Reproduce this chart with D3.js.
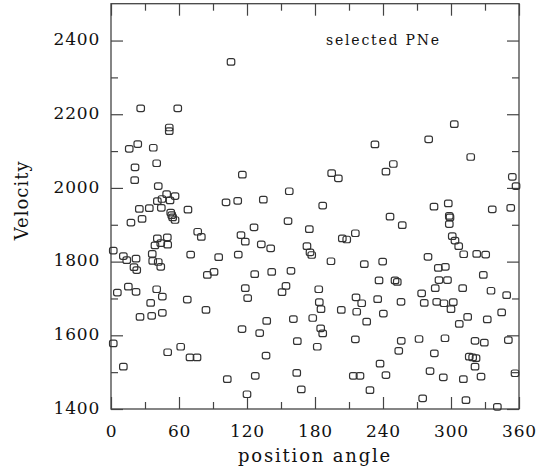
<!DOCTYPE html>
<html>
<head>
<meta charset="utf-8">
<script src="https://cdn.jsdelivr.net/npm/d3@7"></script>
<style>
  html, body { margin: 0; padding: 0; background: #fff; }
  svg { display: block; }
  text { font-family: "DejaVu Serif", serif; fill: #111; }
</style>
</head>
<body>
<svg id="chart" width="553" height="474"></svg>
<script>
// ---- data (position angle in degrees, velocity in km/s) ----
const angles = [
  105.9, 26.2, 58.9, 51.4, 51.4, 16.1, 23.6, 37.3, 21.2, 40.3,
  20.9, 115.9, 41.7, 49.1, 56.5, 45.0, 40.9, 52.1, 101.5, 111.8,
  25.0, 33.8, 44.4, 52.7, 53.6, 54.4, 56.5, 67.9, 17.6, 27.4,
  76.5, 79.7, 114.7, 118.5, 40.9, 49.7, 43.9, 38.8, 50.0, 2.0,
  10.9, 13.9, 22.1, 36.4, 36.8, 41.7, 70.3, 95.0, 112.3, 20.3,
  22.7, 43.9, 85.0, 90.9, 5.6, 15.3, 22.1, 40.3, 45.3, 35.0,
  67.3, 25.6, 35.9, 45.3, 83.8, 118.5, 120.6, 115.6, 2.0, 50.0,
  61.5, 69.7, 75.9, 10.9, 102.6, 120.0, 232.9, 194.7, 200.6, 242.6,
  157.3, 134.4, 186.8, 246.2, 156.2, 126.2, 175.0, 132.6, 140.9, 215.6,
  204.1, 208.0, 172.9, 175.6, 177.1, 194.1, 223.5, 239.7, 126.8, 141.8,
  158.8, 236.5, 154.4, 150.9, 183.3, 183.8, 185.3, 216.2, 221.2, 235.3,
  203.2, 216.8, 240.3, 137.4, 160.9, 178.0, 225.6, 131.2, 185.0, 186.8,
  164.4, 182.0, 215.6, 136.8, 237.4, 127.3, 163.9, 213.8, 219.7, 242.6,
  167.9, 228.5, 302.9, 280.3, 317.4, 249.1, 354.1, 357.4, 285.0, 297.6,
  298.5, 299.1, 298.5, 257.0, 336.4, 352.7, 301.1, 303.5, 306.8, 311.2,
  322.7, 330.6, 279.7, 288.8, 295.0, 328.5, 250.6, 252.6, 289.4, 296.9,
  274.1, 286.1, 310.3, 335.3, 349.1, 255.9, 276.4, 287.4, 293.8, 302.0,
  300.0, 314.7, 307.3, 332.0, 344.7, 256.1, 253.9, 271.8, 294.7, 321.2,
  329.4, 350.6, 285.3, 316.1, 319.1, 322.1, 321.2, 356.5, 281.5, 293.2,
  310.9, 326.5, 275.0, 313.2, 340.9
];
const velocities = [
  2342, 2216, 2216, 2164, 2154, 2106, 2119, 2109, 2056, 2067,
  2021, 2036, 2005, 1983, 1978, 1970, 1964, 1966, 1961, 1965,
  1943, 1945, 1946, 1933, 1926, 1920, 1913, 1941, 1906, 1916,
  1881, 1867, 1872, 1854, 1863, 1866, 1850, 1844, 1846, 1830,
  1815, 1804, 1808, 1821, 1802, 1799, 1819, 1812, 1819, 1785,
  1777, 1786, 1764, 1772, 1716, 1732, 1718, 1725, 1705, 1688,
  1697, 1650, 1653, 1661, 1669, 1728, 1701, 1617, 1578, 1554,
  1569, 1540, 1540, 1515, 1481, 1440, 2118, 2040, 2026, 2044,
  1991, 1968, 1952, 1922, 1910, 1893, 1888, 1847, 1836, 1877,
  1863, 1860, 1842, 1825, 1818, 1801, 1793, 1800, 1766, 1772,
  1775, 1749, 1734, 1717, 1725, 1690, 1671, 1703, 1687, 1698,
  1669, 1664, 1659, 1639, 1644, 1647, 1637, 1606, 1619, 1605,
  1584, 1569, 1589, 1545, 1523, 1490, 1498, 1490, 1490, 1492,
  1453, 1451, 2173, 2132, 2084, 2065, 2030, 2005, 1949, 1958,
  1924, 1920, 1902, 1899, 1942, 1946, 1869, 1857, 1842, 1820,
  1821, 1819, 1813, 1783, 1786, 1764, 1749, 1745, 1750, 1750,
  1714, 1728, 1728, 1721, 1709, 1691, 1688, 1691, 1687, 1690,
  1671, 1650, 1631, 1643, 1662, 1585, 1558, 1590, 1592, 1585,
  1580, 1587, 1551, 1542, 1540, 1538, 1515, 1497, 1503, 1486,
  1481, 1488, 1429, 1424, 1406
];
const angleMajorTicks = [0, 60, 120, 180, 240, 300, 360];
const angleMinorTicks = [30, 90, 150, 210, 270, 330];
const velMajorTicks = [1400, 1600, 1800, 2000, 2200, 2400];
const velMinorTicks = [1500, 1700, 1900, 2100, 2300];
const xLabel = "position angle";
const yLabel = "Velocity";
const annotation = "selected PNe";

// ---- layout ----
const svg = d3.select("#chart");
const x = d3.scaleLinear().domain([0, 360]).range([111, 519]);
const y = d3.scaleLinear().domain([1400, 2500]).range([409, 3.7]);
const axisColor = "#444";
const MAJ = 12, MIN = 7;

// frame
svg.append("rect")
  .attr("x", x(0)).attr("y", y(2500))
  .attr("width", x(360) - x(0)).attr("height", y(1400) - y(2500))
  .attr("fill", "none").attr("stroke", axisColor).attr("stroke-width", 1.3);

function styleAxis(g) {
  g.select(".domain").remove();
  g.selectAll(".tick line").attr("stroke", axisColor).attr("stroke-width", 1.2);
  g.selectAll(".tick text").attr("font-family", "DejaVu Serif, serif")
    .attr("font-size", 17).attr("fill", "#111").attr("letter-spacing", 0.8);
}

// bottom
svg.append("g").attr("transform", `translate(0,${y(1400)})`)
  .call(d3.axisBottom(x).tickValues(angleMajorTicks).tickSizeInner(-MAJ).tickSizeOuter(0)
    .tickPadding(16).tickFormat(d3.format("d")))
  .call(styleAxis);
svg.append("g").attr("transform", `translate(0,${y(1400)})`)
  .call(d3.axisBottom(x).tickValues(angleMinorTicks).tickSizeInner(-MIN).tickSizeOuter(0).tickFormat(""))
  .call(styleAxis);
// top
svg.append("g").attr("transform", `translate(0,${y(2500)})`)
  .call(d3.axisTop(x).tickValues(angleMajorTicks).tickSizeInner(-MAJ).tickSizeOuter(0).tickFormat(""))
  .call(styleAxis);
svg.append("g").attr("transform", `translate(0,${y(2500)})`)
  .call(d3.axisTop(x).tickValues(angleMinorTicks).tickSizeInner(-MIN).tickSizeOuter(0).tickFormat(""))
  .call(styleAxis);
// left
svg.append("g").attr("transform", `translate(${x(0)},0)`)
  .call(d3.axisLeft(y).tickValues(velMajorTicks).tickSizeInner(-MAJ).tickSizeOuter(0)
    .tickPadding(11).tickFormat(d3.format("d")))
  .call(styleAxis)
  .selectAll(".tick text").attr("dy", "0.25em");
svg.append("g").attr("transform", `translate(${x(0)},0)`)
  .call(d3.axisLeft(y).tickValues(velMinorTicks).tickSizeInner(-MIN).tickSizeOuter(0).tickFormat(""))
  .call(styleAxis);
// right
svg.append("g").attr("transform", `translate(${x(360)},0)`)
  .call(d3.axisRight(y).tickValues(velMajorTicks).tickSizeInner(-MAJ).tickSizeOuter(0).tickFormat(""))
  .call(styleAxis);
svg.append("g").attr("transform", `translate(${x(360)},0)`)
  .call(d3.axisRight(y).tickValues(velMinorTicks).tickSizeInner(-MIN).tickSizeOuter(0).tickFormat(""))
  .call(styleAxis);

// axis titles
svg.append("text").attr("x", (x(0) + x(360)) / 2).attr("y", 462)
  .attr("text-anchor", "middle").attr("font-size", 18).attr("letter-spacing", 1.8)
  .text(xLabel);
svg.append("text").attr("transform", `translate(28,${(y(1400) + y(2500)) / 2 - 6}) rotate(-90)`)
  .attr("text-anchor", "middle").attr("font-size", 18).attr("letter-spacing", 1)
  .text(yLabel);
svg.append("text").attr("x", 326).attr("y", 45)
  .attr("font-size", 14).attr("letter-spacing", 1.8)
  .text(annotation);

// points
const pts = angles.map((a, i) => ({ a, v: velocities[i] }));
const W = 7.5, H = 6.5;
svg.append("g").selectAll("rect.pt").data(pts).join("rect")
  .attr("class", "pt")
  .attr("x", d => x(d.a) - W / 2).attr("y", d => y(d.v) - H / 2)
  .attr("width", W).attr("height", H).attr("rx", 2).attr("ry", 2)
  .attr("fill", "none").attr("stroke", "#333").attr("stroke-width", 1.2);
</script>
</body>
</html>
